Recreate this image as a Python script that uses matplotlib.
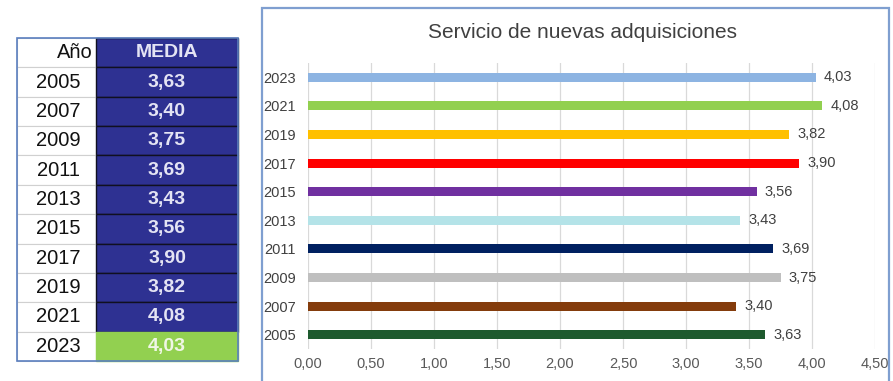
import matplotlib
matplotlib.use("Agg")
import matplotlib.pyplot as plt
from matplotlib.patches import Rectangle

years = ["2005", "2007", "2009", "2011", "2013", "2015", "2017", "2019", "2021", "2023"]
media = [3.63, 3.40, 3.75, 3.69, 3.43, 3.56, 3.90, 3.82, 4.08, 4.03]
bar_colors = ["#1E5A2E", "#843C0C", "#BFBFBF", "#002060", "#B4E3E8",
              "#7030A0", "#FF0000", "#FFC000", "#92D050", "#8DB4E2"]
x_ticks = [0.0, 0.5, 1.0, 1.5, 2.0, 2.5, 3.0, 3.5, 4.0, 4.5]
title = "Servicio de nuevas adquisiciones"
col_year = "Año"
col_media = "MEDIA"

W, H = 893, 381
fig = plt.figure(figsize=(W / 100, H / 100), dpi=100)
fig.patch.set_facecolor("white")
plt.rcParams["font.family"] = ["Liberation Sans", "DejaVu Sans"]


def fx(px):
    return px / W


def fy(py):
    return 1 - py / H


def comma(v):
    return f"{v:.2f}".replace(".", ",")


# ---- summary table on the left ----
t_left, t_split, t_right = 17, 96, 238
t_top, t_bottom = 38, 361
n_rows = len(years) + 1
row_h = (t_bottom - t_top) / n_rows
blue = "#2E3192"
green = "#92D050"

for i in range(n_rows):
    top = t_top + i * row_h
    y0 = fy(top + row_h)
    fig.patches.append(Rectangle((fx(t_left), y0), fx(t_split - t_left), row_h / H,
                                 transform=fig.transFigure, facecolor="white",
                                 edgecolor="#D0D0D0", lw=0.8))
    is_last = i == n_rows - 1
    fc = green if is_last else blue
    fig.patches.append(Rectangle((fx(t_split), y0), fx(t_right - t_split), row_h / H,
                                 transform=fig.transFigure, facecolor=fc,
                                 edgecolor="#101020" if not is_last else green, lw=1.0))
    yc = fy(top + row_h / 2)
    if i == 0:
        fig.text(fx(t_split - 3), yc, col_year, ha="right", va="center",
                 fontsize=14.5, color="#111111")
        fig.text(fx((t_split + t_right) / 2), yc, col_media, ha="center", va="center",
                 fontsize=14, fontweight="bold", color="#E4E4F4")
    else:
        k = i - 1
        fig.text(fx((t_left + t_split) / 2 + 2), yc, years[k], ha="center", va="center",
                 fontsize=14.5, color="#111111")
        fig.text(fx((t_split + t_right) / 2), yc, comma(media[k]), ha="center",
                 va="center", fontsize=14, fontweight="bold",
                 color="#F0F6E6" if is_last else "#E4E4F4")

fig.patches.append(Rectangle((fx(t_left), fy(t_bottom)), fx(t_right - t_left),
                             (t_bottom - t_top) / H, transform=fig.transFigure,
                             facecolor="none", edgecolor="#5B7FBF", lw=1.2))

# ---- chart panel border ----
fig.patches.append(Rectangle((fx(262), fy(390)), fx(627), (390 - 8) / H,
                             transform=fig.transFigure, facecolor="none",
                             edgecolor="#7F9FD0", lw=1.6))

fig.text(fx(583), fy(32), title, ha="center", va="center", fontsize=15,
         color="#404040")

# ---- bar chart ----
ax = fig.add_axes([fx(308), fy(349), fx(875 - 308), (349 - 63) / H])
pos = list(range(len(years)))
ax.barh(pos, media, height=0.31, color=bar_colors, zorder=3)
for p, v in zip(pos, media):
    ax.text(v + 0.065, p, comma(v), va="center", ha="left", fontsize=10.5,
            color="#404040")

ax.set_xlim(0, 4.5)
ax.set_ylim(-0.5, len(years) - 0.5)
ax.set_xticks(x_ticks)
ax.set_xticklabels([comma(v) for v in x_ticks], fontsize=10.5, color="#595959")
ax.set_yticks(pos)
ax.set_yticklabels(years, fontsize=10.5, color="#404040")
ax.tick_params(axis="y", length=0, pad=9)
ax.tick_params(axis="x", length=0, pad=6)
ax.grid(axis="x", color="#D9D9D9", lw=0.9, zorder=0)
for s in ax.spines.values():
    s.set_visible(False)

fig.savefig("out.png", dpi=100)
